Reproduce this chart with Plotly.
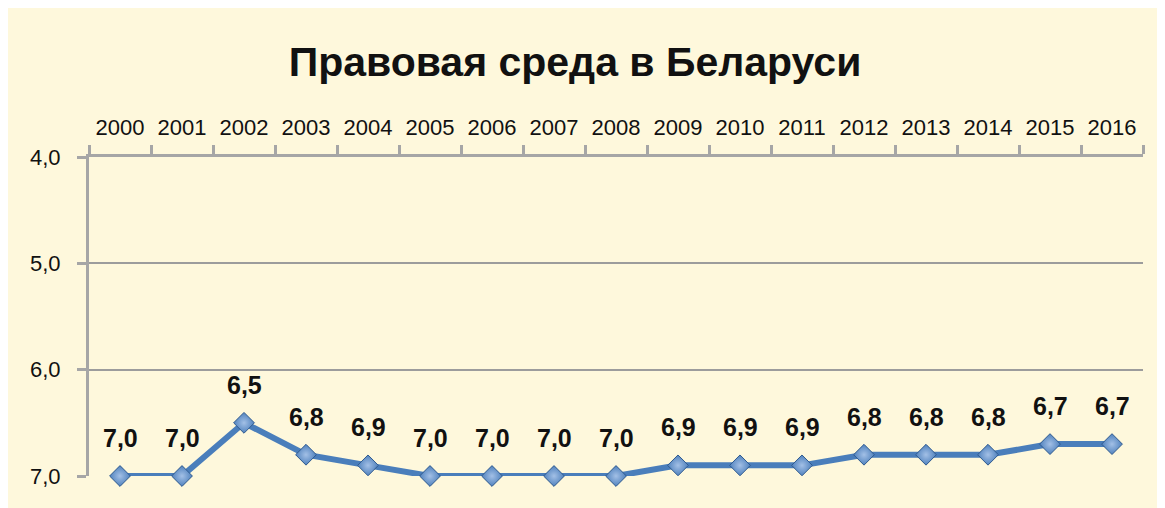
import plotly.graph_objects as go

years = ["2000", "2001", "2002", "2003", "2004", "2005", "2006", "2007", "2008",
         "2009", "2010", "2011", "2012", "2013", "2014", "2015", "2016"]
scores = [7.0, 7.0, 6.5, 6.8, 6.9, 7.0, 7.0, 7.0, 7.0,
          6.9, 6.9, 6.9, 6.8, 6.8, 6.8, 6.7, 6.7]
y_ticks = [4.0, 5.0, 6.0, 7.0]
title_text = "Правовая среда в Беларуси"

FONT = "Liberation Sans, Arial, sans-serif"
AXIS_GRAY = "#A6A6A6"
CREAM = "#FEF8DC"

fig = go.Figure()
fig.add_trace(go.Scatter(
    x=years, y=scores,
    mode="lines+markers",
    line=dict(color="#4A7EBB", width=6),
    marker=dict(symbol="diamond", size=16, color="#4F81BD",
                line=dict(color="#2F5A8F", width=1),
                gradient=dict(type="radial", color="#A3C0E6")),
    cliponaxis=False,
    showlegend=False,
))

for i, val in enumerate(scores):
    fig.add_annotation(x=i, y=val, xref="x", yref="y",
                       text=f"{val:.1f}".replace(".", ","),
                       showarrow=False, yshift=38,
                       font=dict(family=FONT, size=25, color="#111111", weight="bold"))

fig.update_layout(
    width=1165, height=508,
    margin=dict(l=81, r=30, t=149, b=40),
    paper_bgcolor=CREAM,
    plot_bgcolor=CREAM,
    separators=", ",
    title=dict(text=title_text, x=567 / 1165, xanchor="center",
               y=1 - 54 / 508, yanchor="middle",
               font=dict(family=FONT, size=41, color="#111111", weight="bold")),
    xaxis=dict(type="category", side="top", range=[-0.5, 16.5],
               showline=True, linecolor=AXIS_GRAY, linewidth=3,
               ticks="outside", tickson="boundaries", ticklen=9,
               tickcolor=AXIS_GRAY, tickwidth=3,
               ticklabelstandoff=10,
               showgrid=False,
               tickfont=dict(family=FONT, size=22, color="#111111")),
    yaxis=dict(range=[7, 4], tickvals=y_ticks, tickformat=".1f",
               showline=True, linecolor=AXIS_GRAY, linewidth=3,
               ticks="outside", ticklen=9, tickcolor=AXIS_GRAY, tickwidth=3,
               ticklabelstandoff=12,
               showgrid=True, gridcolor="#9C9C9C", gridwidth=1.5,
               zeroline=False,
               tickfont=dict(family=FONT, size=22, color="#111111")),
)

fig.write_html("out.html")
